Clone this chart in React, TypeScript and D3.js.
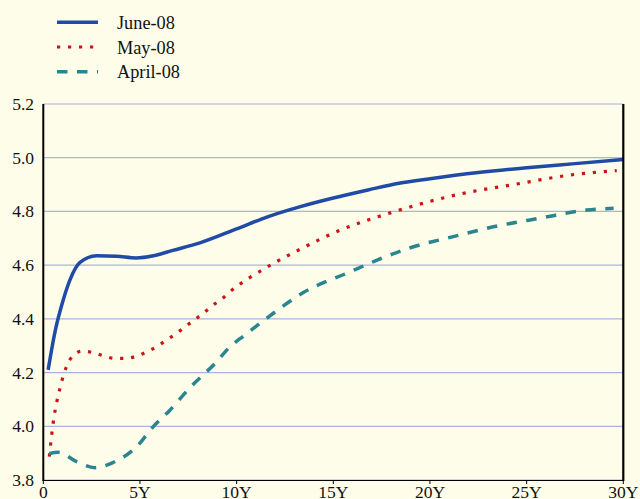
import React from "react";
import * as d3 from "d3";

const juneT = [0.25, 0.6, 1.03, 1.38, 1.9, 2.76, 3.8, 4.8, 5.7, 6.7, 8.1, 10, 11.6, 13.3, 15, 16.8, 18.4, 20, 22.5, 25, 27.5, 30];
const juneV = [4.21, 4.35, 4.47, 4.545, 4.61, 4.635, 4.633, 4.627, 4.635, 4.655, 4.683, 4.735, 4.78, 4.818, 4.85, 4.88, 4.905, 4.922, 4.945, 4.963, 4.978, 4.993];

const mayT = [0.31, 0.52, 0.86, 1.21, 1.52, 2.02, 2.59, 3.14, 3.7, 4.28, 4.86, 5.43, 5.95, 6.43, 6.9, 7.38, 7.85, 8.31, 8.8, 9.28, 9.66, 11.68, 13.28, 15.35, 18.2, 21.5, 24.5, 27.3, 29.66];
const mayV = [3.887, 4.017, 4.141, 4.224, 4.262, 4.28, 4.274, 4.262, 4.253, 4.253, 4.262, 4.28, 4.3, 4.324, 4.346, 4.373, 4.398, 4.423, 4.452, 4.477, 4.501, 4.597, 4.659, 4.73, 4.80, 4.864, 4.902, 4.936, 4.952];

const aprT = [0.31, 0.78, 1.73, 2.67, 3.6, 4.83, 5.69, 6.55, 7.6, 8.88, 9.66, 10.43, 11.55, 13.45, 15.7, 17.94, 18.9, 21.2, 23.5, 25.7, 28.1, 29.5];
const aprV = [3.899, 3.903, 3.868, 3.846, 3.865, 3.924, 3.999, 4.06, 4.145, 4.234, 4.296, 4.34, 4.402, 4.498, 4.57, 4.638, 4.663, 4.706, 4.746, 4.775, 4.805, 4.812];

const yTicks = [3.8, 4.0, 4.2, 4.4, 4.6, 4.8, 5.0, 5.2];
const xTicks = [0, 5, 10, 15, 20, 25, 30];
const xTickLabels = ["0", "5Y", "10Y", "15Y", "20Y", "25Y", "30Y"];
const seriesNames = ["June-08", "May-08", "April-08"];

const W = 640;
const H = 499;
const left = 43.3;
const right = 623.3;
const top = 104;
const bottom = 480;

export default function App() {
  const x = d3.scaleLinear().domain([0, 30]).range([left, right]);
  const y = d3.scaleLinear().domain([3.8, 5.2]).range([bottom, top]);
  const line = d3
    .line<[number, number]>()
    .x((d) => x(d[0]))
    .y((d) => y(d[1]))
    .curve(d3.curveMonotoneX);

  const series = [
    { name: seriesNames[0], t: juneT, v: juneV, color: "#1f4aa6", width: 3.5, dash: "none" },
    { name: seriesNames[1], t: mayT, v: mayV, color: "#cc1316", width: 3.2, dash: "3.2 7.8" },
    { name: seriesNames[2], t: aprT, v: aprV, color: "#2a8590", width: 3.5, dash: "10.5 9.5" },
  ];

  const font = "Liberation Serif, Times New Roman, serif";

  return (
    <svg
      width={W}
      height={H}
      style={{ position: "absolute", left: 0, top: 0, background: "#fefde9", fontFamily: font }}
    >
      <rect x={0} y={0} width={W} height={H} fill="#fefde9" />
      {yTicks.map((t) => (
        <line key={"g" + t} x1={left} x2={right} y1={y(t)} y2={y(t)} stroke="#aab3df" strokeWidth={1.2} />
      ))}
      {series.map((s) => (
        <path
          key={s.name}
          d={line(s.t.map((t, i) => [t, s.v[i]] as [number, number])) || ""}
          fill="none"
          stroke={s.color}
          strokeWidth={s.width}
          strokeDasharray={s.dash}
        />
      ))}
      <line x1={left} x2={left} y1={top} y2={bottom + 1} stroke="#000" strokeWidth={2} />
      <line x1={right} x2={right} y1={top} y2={bottom + 1} stroke="#000" strokeWidth={2.2} />
      <line x1={left} x2={right} y1={bottom + 0.5} y2={bottom + 0.5} stroke="#000" strokeWidth={1.2} />
      {xTicks.map((t) => (
        <line key={"xt" + t} x1={x(t)} x2={x(t)} y1={bottom} y2={bottom + 4} stroke="#000" strokeWidth={1} />
      ))}
      {yTicks.map((t) => (
        <text key={"yl" + t} x={34} y={y(t) + 6} textAnchor="end" fontSize={17.5} fill="#111" style={{ fontFamily: font }}>
          {t.toFixed(1)}
        </text>
      ))}
      {xTicks.map((t, i) => (
        <text key={"xl" + t} x={x(t)} y={497.5} textAnchor="middle" fontSize={17.5} fill="#111" style={{ fontFamily: font }}>
          {xTickLabels[i]}
        </text>
      ))}
      {series.map((s, i) => (
        <g key={"lg" + s.name}>
          <line
            x1={57}
            x2={98}
            y1={22.3 + i * 24.7}
            y2={22.3 + i * 24.7}
            stroke={s.color}
            strokeWidth={s.width}
            strokeDasharray={s.dash}
          />
          <text x={117} y={29 + i * 24.7} fontSize={18.3} fill="#111" style={{ fontFamily: font }}>
            {s.name}
          </text>
        </g>
      ))}
    </svg>
  );
}
